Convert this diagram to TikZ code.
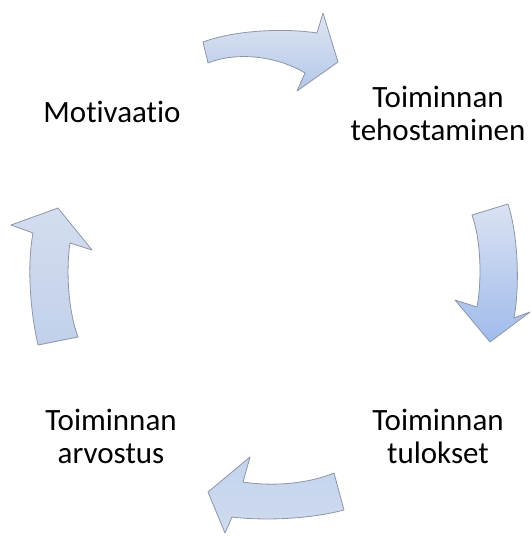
\documentclass[tikz,border=0pt]{standalone}
\usepackage{fontspec}
\setmainfont[Ligatures={NoCommon,NoRequired,NoContextual}]{Carlito}
\definecolor{arrowline}{RGB}{140,150,166}
\begin{document}
\begin{tikzpicture}[x=1pt, y=-1pt,
  lbl/.style={align=center, inner sep=0pt, anchor=base,
    font=\fontsize{31}{33}\selectfont, text=black},
  cyclearrow/.style={draw=arrowline, line width=0.8pt, line join=round}]
\useasboundingbox (0,0) rectangle (531,536);

% labels around the cycle (anchored at the baseline of the last line)
\node[lbl] (motivaatio) at (112,122) {Motivaatio};
\node[lbl] (tehostaminen) at (438,140) {Toiminnan\\tehostaminen};
\node[lbl] (tulokset) at (438,463) {Toiminnan\\tulokset};
\node[lbl] (arvostus) at (111,463) {Toiminnan\\arvostus};

% top arrow, pointing right
\path[cyclearrow, top color={rgb,255:red,222;green,229;blue,242},
      bottom color={rgb,255:red,180;green,199;blue,233}]
  (203,42) .. controls (235,30) and (285,28) .. (317,33)
  -- (323,13) -- (338,62) -- (297,91) -- (305,73)
  .. controls (275,55) and (235,52) .. (208,63) -- cycle;

% right arrow, pointing down
\path[cyclearrow, top color={rgb,255:red,218;green,226;blue,242},
      bottom color={rgb,255:red,160;green,187;blue,235}]
  (472,215) -- (508,204)
  .. controls (518,235) and (520,285) .. (514,318)
  -- (530,312) -- (490,342) -- (455,300) -- (477,307)
  .. controls (482,280) and (481,240) .. (472,215) -- cycle;

% bottom arrow, pointing left
\path[cyclearrow, top color={rgb,255:red,196;green,211;blue,237},
      bottom color={rgb,255:red,206;green,219;blue,240}]
  (334,473) -- (344,510)
  .. controls (310,519) and (265,521) .. (232,517)
  -- (225,533) -- (208,492) -- (250,457) -- (243,482)
  .. controls (275,487) and (310,483) .. (334,473) -- cycle;

% left arrow, pointing up
\path[cyclearrow, top color={rgb,255:red,212;green,221;blue,239},
      bottom color={rgb,255:red,194;green,208;blue,235}]
  (38,345) -- (78,337)
  .. controls (68,310) and (66,270) .. (70,243)
  -- (92,250) -- (58,208) -- (11,225) -- (33,233)
  .. controls (27,265) and (30,310) .. (38,345) -- cycle;
\end{tikzpicture}
\end{document}
